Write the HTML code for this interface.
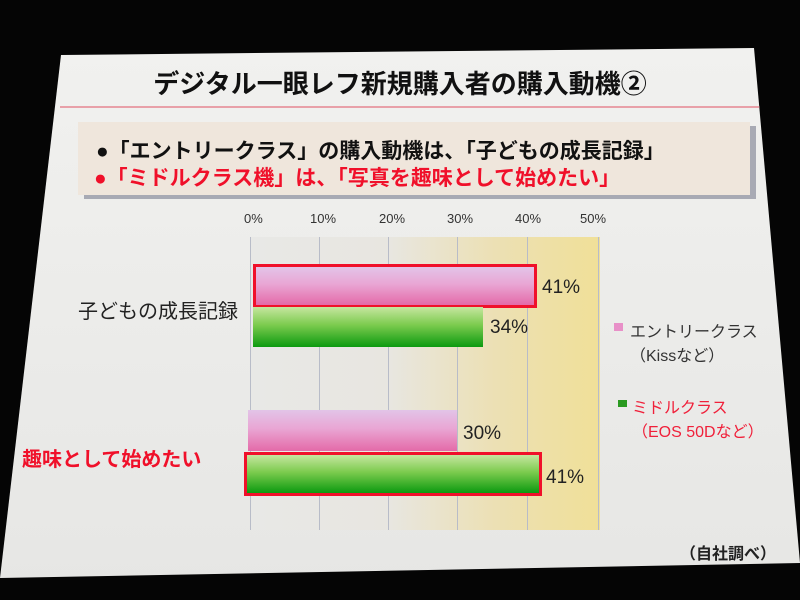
<!DOCTYPE html>
<html><head><meta charset="utf-8"><style>
body{margin:0;width:800px;height:600px;background:#050505;position:relative;overflow:hidden;font-family:"Liberation Sans","Noto Sans CJK JP",sans-serif}
.slide{position:absolute;left:0;top:0;width:800px;height:600px;background:linear-gradient(180deg,#f2f2f0,#e6e6e4);clip-path:polygon(61px 55px,754px 48px,800px 563px,0px 578px)}
.a{position:absolute;white-space:nowrap}
.bar{position:absolute}
.pink{background:linear-gradient(180deg,#e2c4e8 0%,#e9a6d4 45%,#e46aa8 100%)}
.green{background:linear-gradient(180deg,#c6e6a0 0%,#7ccb4e 45%,#0c9a10 100%)}
.hl{outline:3px solid #f0102a}
.v{position:absolute;top:237px;height:293px;width:1px;background:#b8bcc8}
.t{position:absolute;top:211px;font-size:13px;color:#333}
.p{position:absolute;font-size:19px;color:#222}
</style></head><body>
<div class="slide">
<div class="a" style="left:0;width:800px;text-align:center;top:64px;font-size:26px;font-weight:bold;color:#111">デジタル一眼レフ新規購入者の購入動機②</div>
<div class="a" style="left:60px;width:700px;top:106px;height:2px;background:#e8a0a8"></div>
<div class="a" style="left:84px;top:126px;width:672px;height:73px;background:#a8aab4"></div>
<div class="a" style="left:78px;top:122px;width:672px;height:73px;background:#efe6dc"></div>
<div class="a" style="left:96px;top:135px;font-size:21px;font-weight:bold;color:#111">●「エントリークラス」の購入動機は、「子どもの成長記録」</div>
<div class="a" style="left:94px;top:162px;font-size:21px;font-weight:bold;color:#f0102a">●「ミドルクラス機」は、「写真を趣味として始めたい」</div>
<div class="a" style="left:250px;top:237px;width:350px;height:293px;background:linear-gradient(90deg,#e8e8e6 0%,#e8e6e0 40%,#ece0b4 70%,#f0e098 100%)"></div>
<div class="v" style="left:250px"></div><div class="v" style="left:319px"></div><div class="v" style="left:388px"></div><div class="v" style="left:457px"></div><div class="v" style="left:527px"></div><div class="v" style="left:598px"></div>
<div class="t" style="left:244px">0%</div><div class="t" style="left:310px">10%</div><div class="t" style="left:379px">20%</div><div class="t" style="left:447px">30%</div><div class="t" style="left:515px">40%</div><div class="t" style="left:580px">50%</div>
<div class="bar pink hl" style="left:256px;top:267px;width:278px;height:38px"></div>
<div class="bar green" style="left:253px;top:307px;width:230px;height:40px"></div>
<div class="bar pink" style="left:248px;top:410px;width:209px;height:41px"></div>
<div class="bar green hl" style="left:247px;top:455px;width:292px;height:38px"></div>
<div class="p" style="left:542px;top:277px">41%</div>
<div class="p" style="left:490px;top:317px">34%</div>
<div class="p" style="left:463px;top:423px">30%</div>
<div class="p" style="left:546px;top:467px">41%</div>
<div class="a" style="left:78px;top:295px;font-size:20px;color:#222">子どもの成長記録</div>
<div class="a" style="left:22px;top:443px;font-size:20px;font-weight:bold;color:#f0102a">趣味として始めたい</div>
<div class="a" style="left:614px;top:323px;width:9px;height:8px;background:#e890c8"></div>
<div class="a" style="left:630px;top:318px;font-size:16px;color:#333">エントリークラス</div>
<div class="a" style="left:630px;top:342px;font-size:16px;color:#333">（Kissなど）</div>
<div class="a" style="left:618px;top:400px;width:9px;height:7px;background:#2a9a20"></div>
<div class="a" style="left:632px;top:394px;font-size:16px;color:#f0203a">ミドルクラス</div>
<div class="a" style="left:632px;top:418px;font-size:16px;color:#f0203a">（EOS 50Dなど）</div>
<div class="a" style="left:680px;top:540px;font-size:16px;font-weight:bold;color:#222">（自社調べ）</div>
</div>
</body></html>
